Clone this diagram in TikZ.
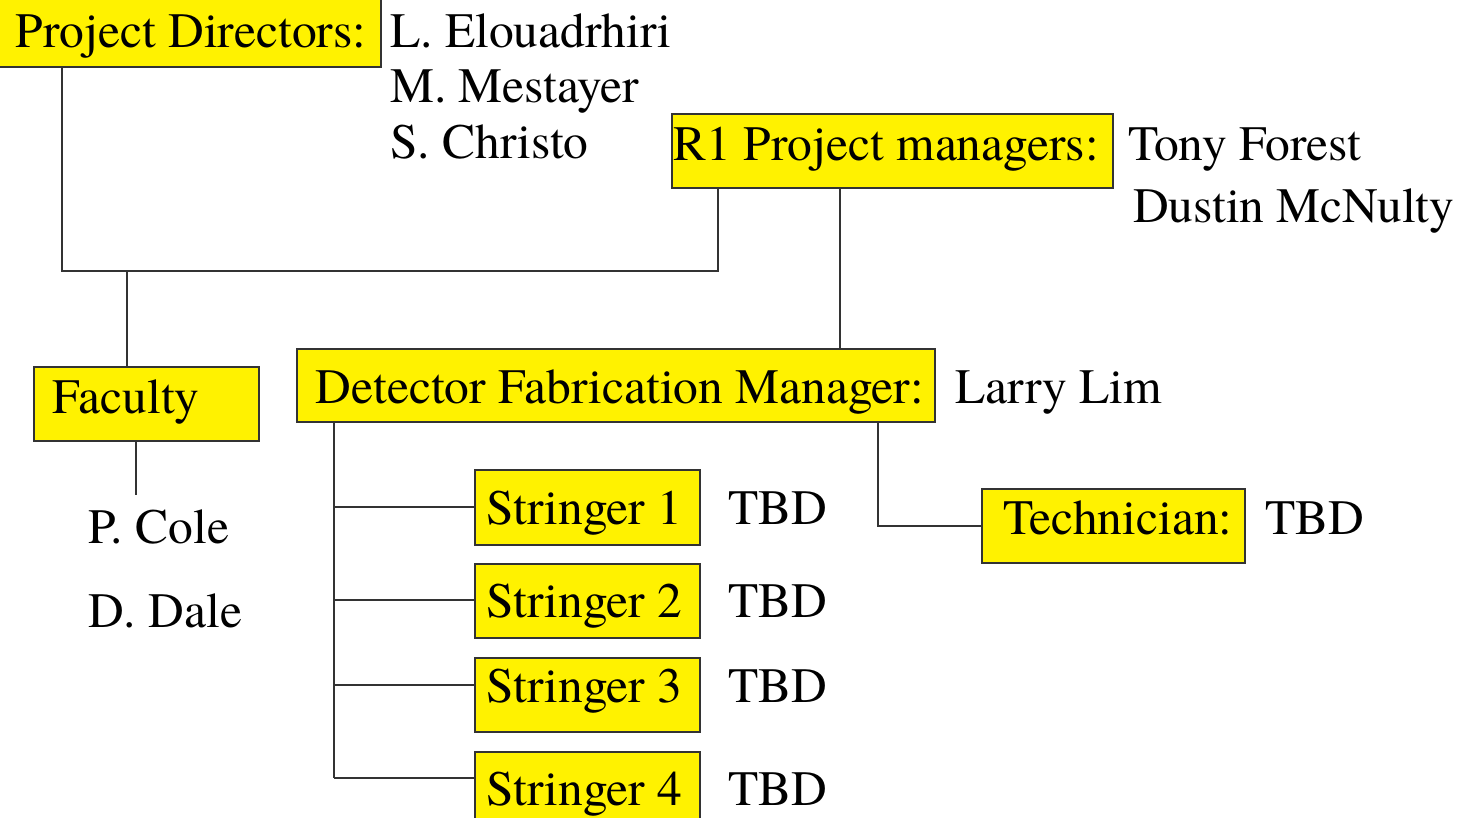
\documentclass[tikz,border=0pt]{standalone}
\usepackage{fontspec}
\IfFontExistsTF{TeX Gyre Termes}{\setmainfont{TeX Gyre Termes}}{\setmainfont{Liberation Serif}}
\newcommand{\boxtxt}[3]{\makebox[#1pt][l]{\hspace*{#2pt}#3}}
\begin{document}
\begin{tikzpicture}[x=1pt,y=-1pt,
  box/.style={draw=black!80, line width=1.6pt, fill=yellow, inner xsep=0pt, inner ysep=0pt, anchor=north west, font=\fontsize{49.5}{56}\selectfont},
  lbl/.style={anchor=base west, inner sep=0pt, font=\fontsize{49.5}{56}\selectfont},
  conn/.style={draw=black!80, line width=1.5pt}]
\useasboundingbox (0,0) rectangle (1467,817);
\clip (0,0) rectangle (1467,817);
% boxes
\node[box, text height=49pt, text depth=19pt] (pd) at (-2,-2) {\boxtxt{382}{17}{Project Directors:}};
\node[box, text height=47pt, text depth=27pt] (r1) at (671,113) {\boxtxt{441}{2}{R1 Project managers:}};
\node[box, text height=47pt, text depth=27pt] (fac) at (33,366) {\boxtxt{225}{19}{Faculty}};
\node[box, text height=55pt, text depth=18pt] (dfm) at (296,348) {\boxtxt{638}{19}{Detector Fabrication Manager:}};
\node[box, text height=55pt, text depth=20pt] (s1) at (474,469) {\boxtxt{225}{12}{Stringer 1}};
\node[box, text height=54pt, text depth=20pt] (s2) at (474,563) {\boxtxt{225}{12}{Stringer 2}};
\node[box, text height=45pt, text depth=29pt] (s3) at (474,657) {\boxtxt{225}{12}{Stringer 3}};
\node[box, text height=54pt, text depth=25pt] (s4) at (474,751) {\boxtxt{225}{12}{Stringer 4}};
\node[box, text height=46pt, text depth=28pt] (tech) at (981,488) {\boxtxt{263}{22}{Technician:}};
% plain labels
\node[lbl] (n1) at (390,47) {L. Elouadrhiri};
\node[lbl] (n2) at (390,102) {M. Mestayer};
\node[lbl] (n3) at (390,158) {S. Christo};
\node[lbl] (n4) at (1128,160) {Tony Forest};
\node[lbl] (n5) at (1133,222) {Dustin McNulty};
\node[lbl] (n6) at (955,403) {Larry Lim};
\node[lbl] (n7) at (88,543) {P. Cole};
\node[lbl] (n8) at (88,627) {D. Dale};
\node[lbl] (t1) at (728,524) {TBD};
\node[lbl] (t2) at (728,617) {TBD};
\node[lbl] (t3) at (728,702) {TBD};
\node[lbl] (t4) at (728,805) {TBD};
\node[lbl] (t5) at (1265,534) {TBD};
% connectors
\coordinate (j1) at (62,271);
\coordinate (j2) at (718,271);
\coordinate (j3) at (127,271);
\coordinate (k1) at (840,0);
\coordinate (fe) at (136,495);
\coordinate (sp) at (334,778);
\coordinate (b1) at (334,507);
\coordinate (b2) at (334,600);
\coordinate (b3) at (334,685);
\coordinate (tc) at (878,526);
\draw[conn] (pd.south -| j1) -- (j1) -- (j2) -- (r1.south -| j2);
\draw[conn] (j3) -- (fac.north -| j3);
\draw[conn] (r1.south -| k1) -- (dfm.north -| k1);
\draw[conn] (fac.south -| fe) -- (fe);
\draw[conn] (dfm.south -| sp) -- (sp);
\draw[conn] (b1) -- (s1.west |- b1);
\draw[conn] (b2) -- (s2.west |- b2);
\draw[conn] (b3) -- (s3.west |- b3);
\draw[conn] (sp) -- (s4.west |- sp);
\draw[conn] (dfm.south -| tc) -- (tc) -- (tech.west |- tc);
\end{tikzpicture}
\end{document}
